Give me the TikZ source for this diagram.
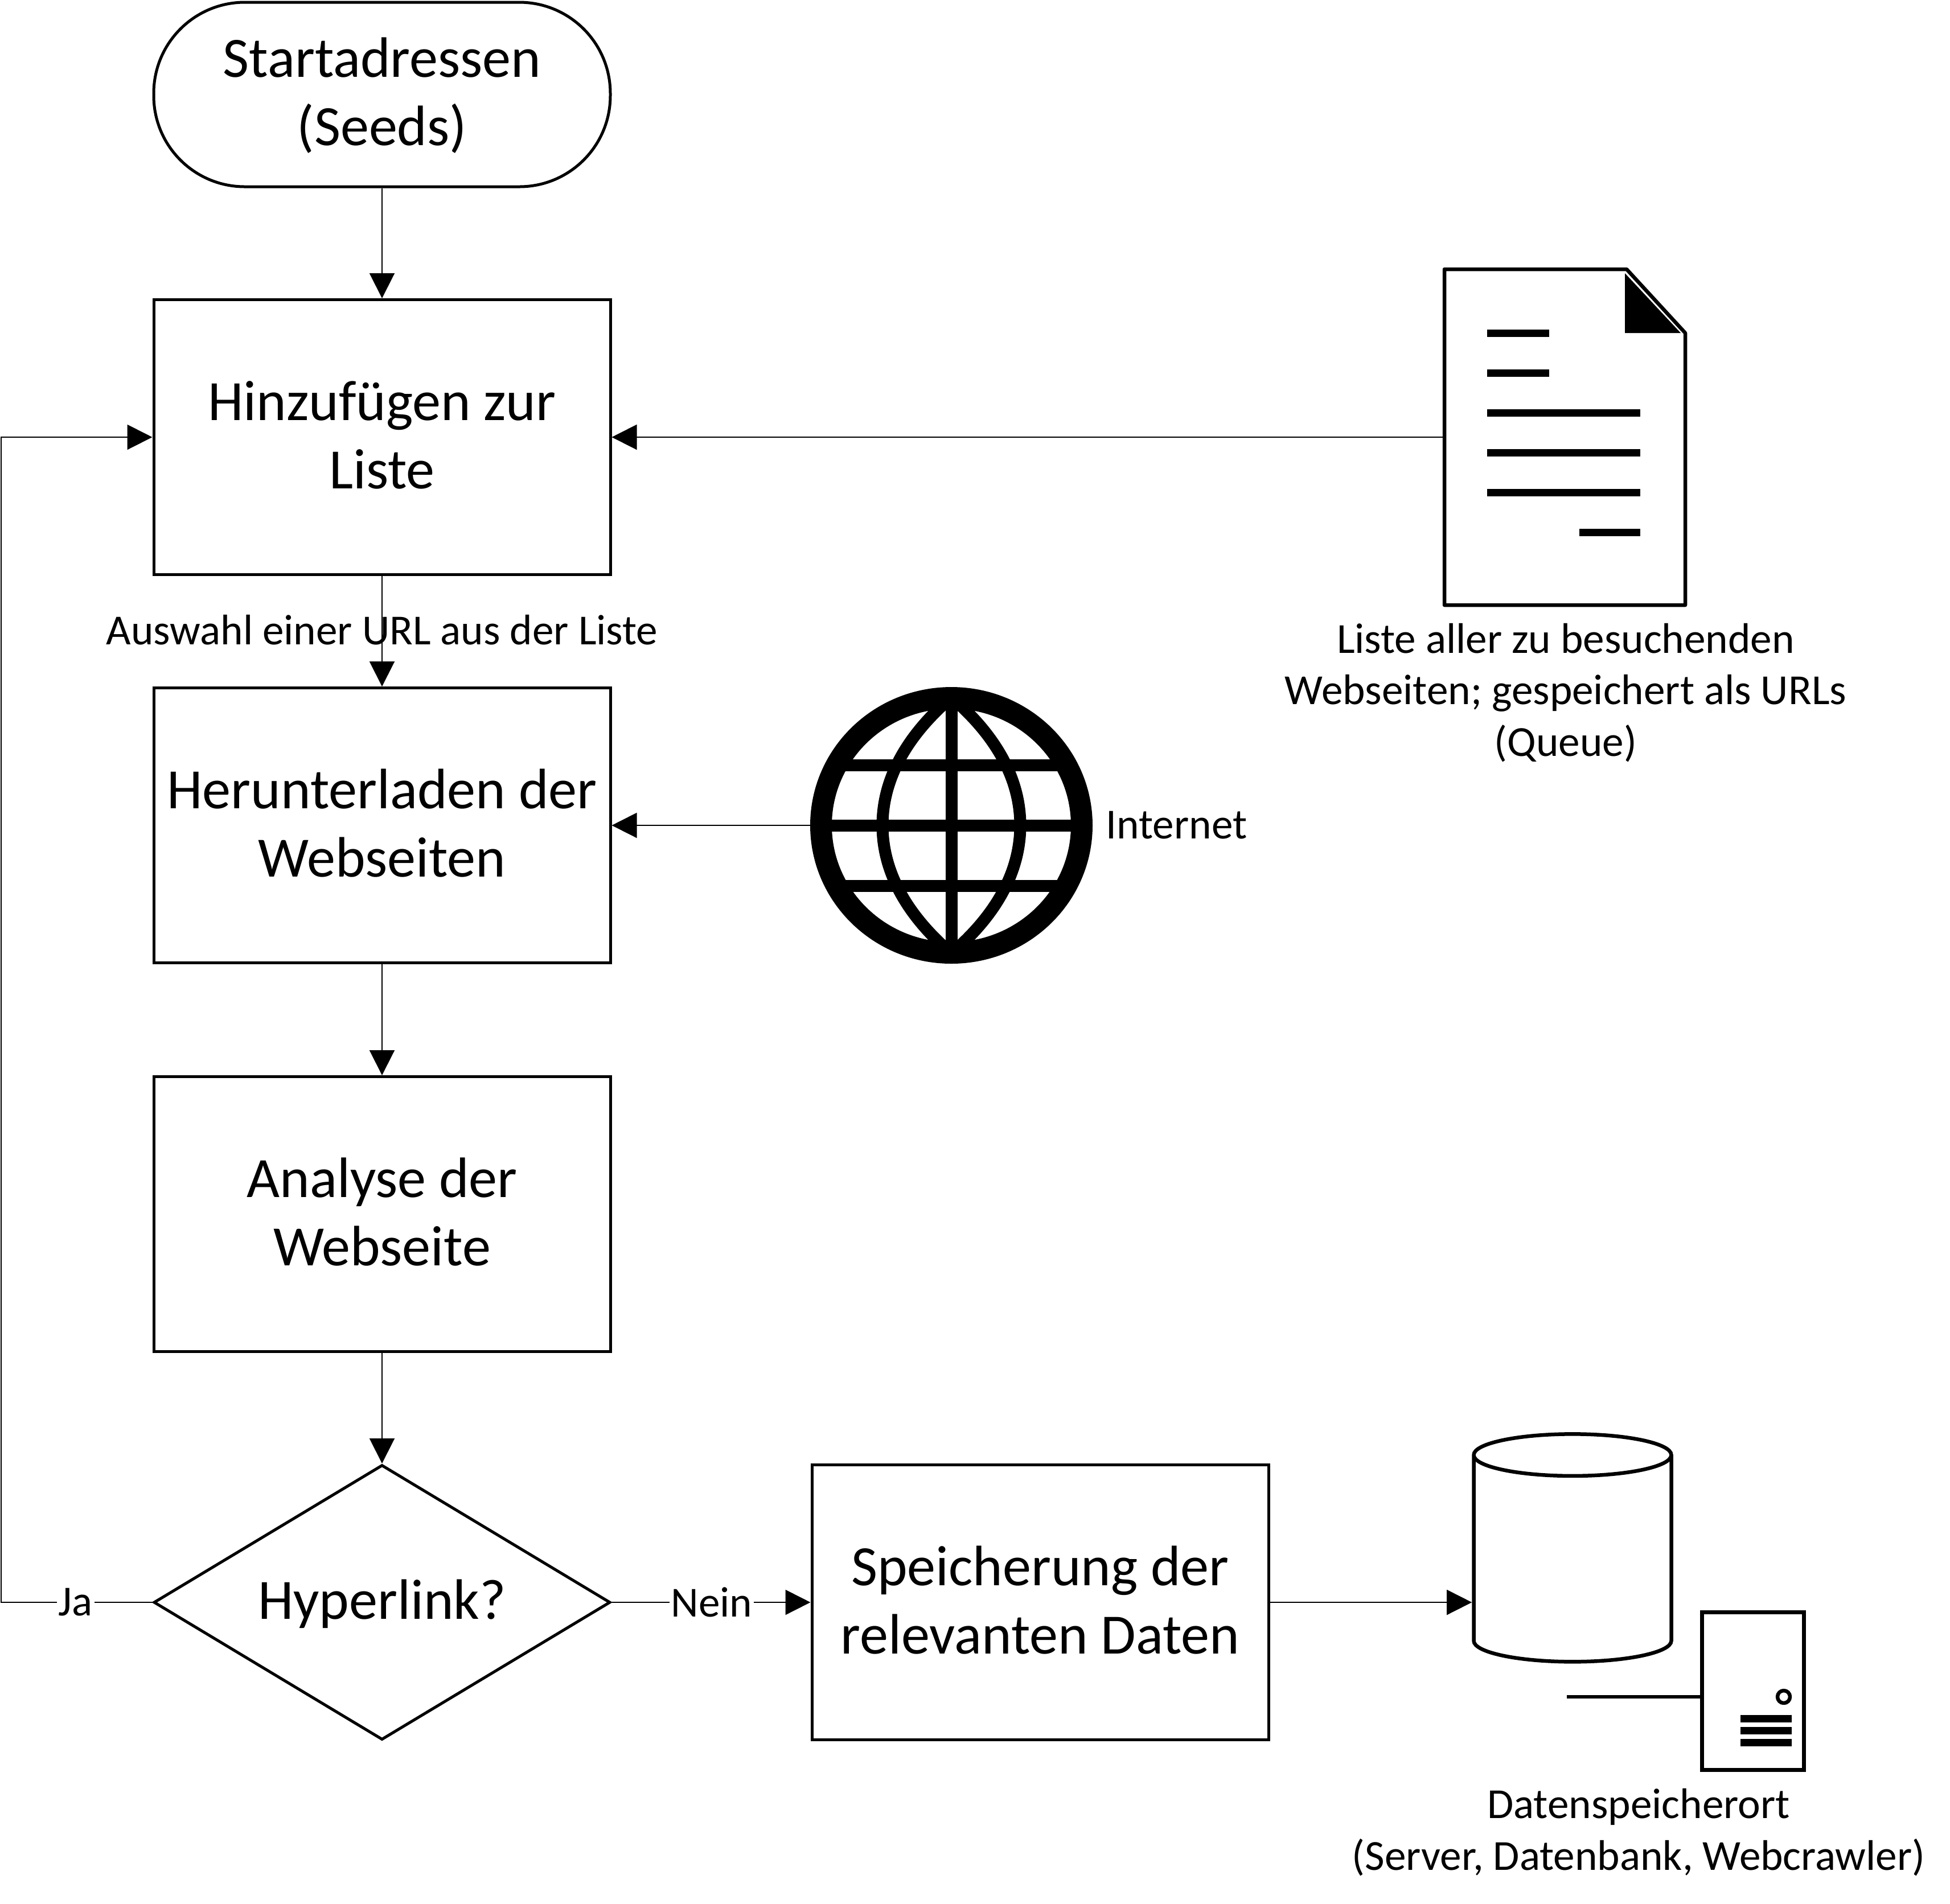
\documentclass[tikz,border=0pt]{standalone}
\usepackage{fontspec}
\setmainfont{Carlito}
\usetikzlibrary{arrows.meta,shapes.geometric}
\tikzset{
  flowbox/.style={draw,line width=.05cm,minimum width=8.02cm,minimum height=4.83cm,inner sep=0pt,align=center,text depth=.08cm,font=\fontsize{28.5}{34.2}\selectfont},
  flowdiamond/.style={flowbox,diamond,aspect=1.66,minimum height=4.83cm,text depth=.11cm},
  flowarrow/.style={line width=.02cm,-{Triangle[length=.44cm,width=.44cm]}},
  flowlabel/.style={font=\fontsize{21.4}{25.8}\selectfont,align=center,inner sep=0pt},
  iconline/.style={line width=.065cm,line join=round},
  textbar/.style={line width=.13cm},
  gridline/.style={line width=.21cm}
}
\begin{document}
\begin{tikzpicture}
  \useasboundingbox (0,0) rectangle (34.25,-33.44);
  \node (start) [flowbox,rounded corners=1.6cm,minimum height=3.24cm,text depth=.11cm] at (6.71,-1.66) {Startadressen\\(Seeds)};
  \node (liste) [flowbox] at (6.71,-7.68) {Hinzufügen zur\\Liste};
  \node (download) [flowbox] at (6.71,-14.50) {Herunterladen der\\Webseiten};
  \node (analyse) [flowbox] at (6.71,-21.33) {Analyse der\\Webseite};
  \node (hyperlink) [flowdiamond] at (6.71,-28.15) {Hyperlink?};
  \node (speicher) [flowbox] at (18.27,-28.15) {Speicherung der\\relevanten Daten};

  % Liste der URLs
  \coordinate (queue) at (25.37,-7.68);
  \draw[iconline] (25.37,-4.73) -- (28.57,-4.73) -- (29.60,-5.85) -- (29.60,-10.63) -- (25.37,-10.63) -- cycle;
  \fill (28.54,-4.80) -- (28.54,-5.85) -- (29.52,-5.85) -- cycle;
  \draw[textbar] (26.12,-5.85) -- (27.21,-5.85);
  \draw[textbar] (26.12,-6.55) -- (27.21,-6.55);
  \foreach \y in {7.25,7.95,8.65}
    \draw[textbar] (26.12,-\y) -- (28.81,-\y);
  \draw[textbar] (27.74,-9.35) -- (28.81,-9.35);
  \node (queuetext) [flowlabel] at (27.50,-12.17) {Liste aller zu besuchenden\\Webseiten; gespeichert als URLs\\(Queue)};

  % Globus
  \node (globe) [ellipse,draw,line width=.38cm,minimum width=4.58cm,minimum height=4.48cm,inner sep=0pt] at (16.71,-14.50) {};
  \begin{scope}[shift={(globe.center)}]
    \clip (0,0) ellipse (2.35cm and 2.3cm);
    \foreach \side in {1,-1}
      \draw[gridline,xscale=\side] (0,2.25) .. controls (-.85,1.52) and (-1.21,.75) .. (-1.21,0) .. controls (-1.21,-.75) and (-.85,-1.52) .. (0,-2.25);
    \foreach \y in {-1.06,0,1.06}
      \draw[gridline] (-2.4,\y) -- (2.4,\y);
    \draw[gridline] (0,-2.4) -- (0,2.4);
  \end{scope}
  \node (internet) [flowlabel,anchor=west] at (19.42,-14.50) {Internet};

  % Datenspeicher
  \node (db) [cylinder,draw,line width=.065cm,shape border rotate=90,aspect=3.14,minimum width=3.47cm,minimum height=4cm] at (27.62,-27.46) {};
  \coordinate (cable) at (27.52,-29.81);
  \node (server) [draw,line width=.065cm,minimum width=1.79cm,minimum height=2.77cm,inner sep=0pt] at (30.79,-29.71) {};
  \draw[iconline] (cable) -- (server.west |- cable);
  \draw[iconline] (31.33,-29.81) circle (.11cm);
  \foreach \y in {30.19,30.40,30.61}
    \draw[line width=.13cm] (30.57,-\y) -- (31.47,-\y);
  \node (dbtext) [flowlabel] at (28.78,-32.19) {Datenspeicherort\\(Server, Datenbank, Webcrawler)};

  \draw[flowarrow] (start) -- (liste);
  \draw[flowarrow] (liste) -- (download);
  \node (auswahl) [flowlabel] at (6.71,-11.07) {Auswahl einer URL aus der Liste};
  \draw[flowarrow] (download) -- (analyse);
  \draw[flowarrow] (analyse) -- (hyperlink);
  \draw[flowarrow] (queue) -- (liste.east);
  \draw[flowarrow] (globe.west) -- (download.east);
  \coordinate (loop) at (0.02,-28.15);
  \draw[flowarrow] (hyperlink.west) -- (loop) |- (liste.west);
  \node (ja) [flowlabel,fill=white,inner xsep=.03cm] at (1.33,-28.15) {Ja};
  \draw[flowarrow] (hyperlink.east) -- (speicher.west);
  \node (nein) [flowlabel,fill=white,inner xsep=.03cm] at (12.50,-28.15) {Nein};
  \draw[flowarrow] (speicher.east) -- (speicher.east -| db.west);
\end{tikzpicture}
\end{document}
